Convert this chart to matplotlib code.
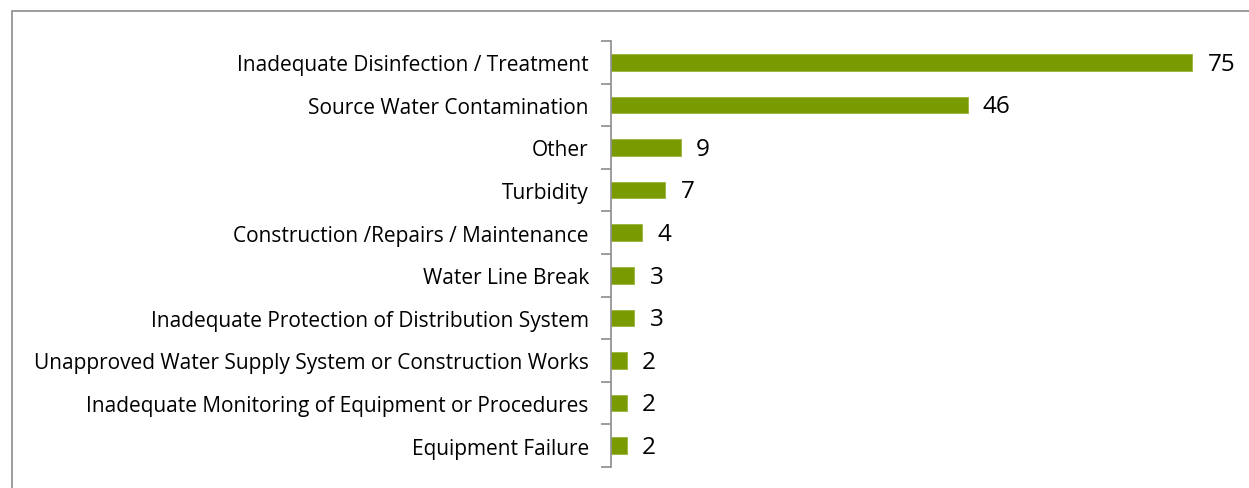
import matplotlib.pyplot as plt
from matplotlib.patches import Rectangle

categories = [
    "Inadequate Disinfection / Treatment",
    "Source Water Contamination",
    "Other",
    "Turbidity",
    "Construction /Repairs / Maintenance",
    "Water Line Break",
    "Inadequate Protection of Distribution System",
    "Unapproved Water Supply System or Construction Works",
    "Inadequate Monitoring of Equipment or Procedures",
    "Equipment Failure",
]
counts = [75, 46, 9, 7, 4, 3, 3, 2, 2, 2]

BAR_COLOR = "#7a9a01"
W, H = 1249, 489

fig = plt.figure(figsize=(W / 100, H / 100), dpi=100)
fig.patches.append(Rectangle((12 / W, -0.2), 1.2, 1 - 12 / H + 0.2,
                             transform=fig.transFigure, fill=False,
                             edgecolor="#8c8c8c", linewidth=1.2))

ax = fig.add_axes([611 / W, 1 - 468 / H, 620 / W, 426 / H])
y = list(range(len(categories)))
ax.barh(y, counts, height=0.39, color=BAR_COLOR, edgecolor="#9ab33a", linewidth=0.6)
ax.set_ylim(len(categories) - 0.5, -0.5)
ax.set_xlim(0, 80)

ax.set_yticks(y)
ax.set_yticklabels(categories, fontsize=15, family=["Open Sans", "DejaVu Sans"])
ax.set_yticks([i - 0.5 for i in range(len(categories) + 1)], minor=True)
ax.tick_params(axis="y", which="major", length=0, pad=16)
ax.tick_params(axis="y", which="minor", length=7, color="#8c8c8c", width=1.2)
ax.set_xticks([])
for s in ["top", "right", "bottom"]:
    ax.spines[s].set_visible(False)
ax.spines["left"].set_color("#8c8c8c")
ax.spines["left"].set_linewidth(1.2)

for yi, v in zip(y, counts):
    ax.annotate(str(v), (v, yi), xytext=(11, -1), textcoords="offset points",
                va="center", ha="left", fontsize=17.5, family=["Open Sans", "DejaVu Sans"])

fig.savefig("out.png", dpi=100)
